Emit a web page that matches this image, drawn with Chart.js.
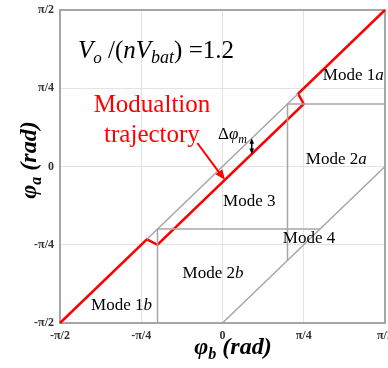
<!DOCTYPE html>
<html>
<head>
<meta charset="utf-8">
<script src="https://cdn.jsdelivr.net/npm/chart.js@4.4.1/dist/chart.umd.min.js"></script>
<style>
    html, body { margin: 0; padding: 0; background: #fff; }
    #wrap { width: 388px; height: 368px; }
</style>
</head>
<body>
<div id="wrap"><canvas id="modeMap"></canvas></div>
<script>
// axes are in units of pi/4 rad
const tickValues = [-2, -1, 0, 1, 2];
const tickLabels = ['-π/2', '-π/4', '0', 'π/4', 'π/2'];

// modulation trajectory (phi_b, phi_a)
const trajX = [-2, -0.93, -0.8, 1.0, 0.93, 2];
const trajY = [-2, -0.93, -1.0, 0.8, 0.93, 2];

// mode boundaries
const diagX = [-0.93, 0.93];
const diagY = [-0.93, 0.93];
const lowBoxX = [-0.8, -0.8, 1.2];
const lowBoxY = [-2, -0.8, -0.8];
const lowDiagX = [0, 2];
const lowDiagY = [-2, 0];
const highBoxX = [0.8, 0.8, 2];
const highBoxY = [-1.2, 0.8, 0.8];

const SERIF = '"Liberation Serif", "Times New Roman", serif';
const GREY = '#a6a6a6';
const RED = '#ff0000';

function pts(xs, ys) {
    return xs.map((x, i) => ({ x, y: ys[i] }));
}

function line(label, xs, ys, color, width) {
    return {
        label,
        data: pts(xs, ys),
        showLine: true,
        borderColor: color,
        borderWidth: width,
        pointRadius: 0,
        fill: false,
        tension: 0,
        clip: 4
    };
}

// draws a run of text pieces (font, optional baseline shift) from x
function runWidth(ctx, parts) {
    let w = 0;
    parts.forEach(p => { ctx.font = p.font; w += ctx.measureText(p.t).width; });
    return w;
}
function drawRun(ctx, parts, x, y, align) {
    let cx = align === 'center' ? x - runWidth(ctx, parts) / 2 : x;
    parts.forEach(p => {
        ctx.font = p.font;
        ctx.fillText(p.t, cx, y + (p.dy || 0));
        cx += ctx.measureText(p.t).width;
    });
}

function arrowHead(ctx, x0, y0, x1, y1, size) {
    const a = Math.atan2(y1 - y0, x1 - x0);
    ctx.beginPath();
    ctx.moveTo(x1, y1);
    ctx.lineTo(x1 - size * Math.cos(a - 0.4), y1 - size * Math.sin(a - 0.4));
    ctx.lineTo(x1 - size * Math.cos(a + 0.4), y1 - size * Math.sin(a + 0.4));
    ctx.closePath();
    ctx.fill();
}

const modeLabels = [
    { num: 'Mode 1', sub: 'a', x: 1.61, y: 1.105 },
    { num: 'Mode 2', sub: 'a', x: 1.40, y: 0.032 },
    { num: 'Mode 3', sub: '',  x: 0.33, y: -0.505 },
    { num: 'Mode 4', sub: '',  x: 1.065, y: -0.978 },
    { num: 'Mode 2', sub: 'b', x: -0.117, y: -1.425 },
    { num: 'Mode 1', sub: 'b', x: -1.243, y: -1.834 }
];

const framePlugin = {
    id: 'frame',
    beforeDatasetsDraw(chart) {
        const { ctx, chartArea: a } = chart;
        ctx.save();
        ctx.strokeStyle = GREY;
        ctx.lineWidth = 2;
        ctx.strokeRect(a.left, a.top, a.right - a.left, a.bottom - a.top);
        ctx.restore();
    }
};

const notesPlugin = {
    id: 'notes',
    afterDraw(chart) {
        const { ctx } = chart;
        const sx = chart.scales.x, sy = chart.scales.y;
        const px = v => sx.getPixelForValue(v);
        const py = v => sy.getPixelForValue(v);
        ctx.save();
        ctx.textBaseline = 'alphabetic';
        ctx.textAlign = 'left';

        // voltage ratio
        ctx.fillStyle = '#000';
        drawRun(ctx, [
            { t: 'V', font: 'italic 25px ' + SERIF },
            { t: 'o', font: 'italic 17px ' + SERIF, dy: 5 },
            { t: ' /(', font: '25px ' + SERIF },
            { t: 'n', font: 'italic 25px ' + SERIF },
            { t: 'V', font: 'italic 25px ' + SERIF },
            { t: 'bat', font: 'italic 18px ' + SERIF, dy: 5 },
            { t: ') =1.2', font: '25px ' + SERIF }
        ], px(-1.778), py(1.387), 'left');

        // mode names
        modeLabels.forEach(m => {
            const parts = [{ t: m.num, font: '17px ' + SERIF }];
            if (m.sub) parts.push({ t: m.sub, font: 'italic 17px ' + SERIF });
            drawRun(ctx, parts, px(m.x), py(m.y), 'center');
        });

        // delta phi_m marker
        drawRun(ctx, [
            { t: 'Δ', font: '17px ' + SERIF },
            { t: 'φ', font: 'italic 17px ' + SERIF },
            { t: 'm', font: 'italic 12px ' + SERIF, dy: 4 }
        ], px(-0.055), py(0.351), 'left');
        const ax = px(0.36), ay0 = py(0.36), ay1 = py(0.16);
        ctx.strokeStyle = '#000';
        ctx.lineWidth = 1.5;
        ctx.beginPath();
        ctx.moveTo(ax, ay0 + 3);
        ctx.lineTo(ax, ay1 - 3);
        ctx.stroke();
        arrowHead(ctx, ax, ay0 + 8, ax, ay0, 6);
        arrowHead(ctx, ax, ay1 - 8, ax, ay1, 6);

        // trajectory caption + pointer
        ctx.fillStyle = RED;
        ctx.textAlign = 'center';
        ctx.font = '25px ' + SERIF;
        ctx.fillText('Modualtion', px(-0.868), py(0.696));
        ctx.fillText('trajectory', px(-0.868), py(0.313));
        const x0 = px(-0.31), y0 = py(0.30), x1 = px(0.03), y1 = py(-0.17);
        ctx.strokeStyle = RED;
        ctx.lineWidth = 2;
        ctx.beginPath();
        ctx.moveTo(x0, y0);
        ctx.lineTo(x1 - 4, y1 - 5);
        ctx.stroke();
        arrowHead(ctx, x0, y0, x1, y1, 11);

        // axis titles
        ctx.fillStyle = '#000';
        ctx.textAlign = 'left';
        drawRun(ctx, [
            { t: 'φ', font: 'bold italic 24px ' + SERIF },
            { t: 'b', font: 'bold italic 16px ' + SERIF, dy: 5 },
            { t: ' (rad)', font: 'bold italic 24px ' + SERIF }
        ], 233, 354, 'center');
        ctx.translate(36, 160);
        ctx.rotate(-Math.PI / 2);
        drawRun(ctx, [
            { t: 'φ', font: 'bold italic 24px ' + SERIF },
            { t: 'a', font: 'bold italic 16px ' + SERIF, dy: 5 },
            { t: ' (rad)', font: 'bold italic 24px ' + SERIF }
        ], 0, 0, 'center');
        ctx.restore();
    }
};

function axis(isX) {
    return {
        type: 'linear',
        min: -2,
        max: 2,
        afterBuildTicks: s => { s.ticks = tickValues.map(v => ({ value: v })); },
        afterFit: s => {
            if (isX) { s.height = 45; s.paddingLeft = 0; s.paddingRight = 0; }
            else { s.width = 60; s.paddingTop = 0; s.paddingBottom = 0; }
        },
        grid: { color: '#e3e3e3', lineWidth: 1, drawTicks: false },
        border: { display: false },
        ticks: {
            autoSkip: false,
            maxRotation: 0,
            padding: 6,
            color: '#333',
            font: { family: SERIF, size: 12, weight: 'bold' },
            callback: v => tickLabels[tickValues.indexOf(v)]
        },
        title: { display: false }
    };
}

new Chart(document.getElementById('modeMap'), {
    type: 'scatter',
    data: {
        datasets: [
            line('diag', diagX, diagY, GREY, 1.5),
            line('lowBox', lowBoxX, lowBoxY, GREY, 1.5),
            line('lowDiag', lowDiagX, lowDiagY, GREY, 1.5),
            line('highBox', highBoxX, highBoxY, GREY, 1.5),
            line('trajectory', trajX, trajY, RED, 2.5)
        ]
    },
    options: {
        responsive: true,
        maintainAspectRatio: false,
        animation: false,
        devicePixelRatio: 1,
        layout: { padding: { left: 0, right: 3, top: 10, bottom: 0 } },
        plugins: {
            legend: { display: false },
            tooltip: { enabled: false }
        },
        scales: { x: axis(true), y: axis(false) }
    },
    plugins: [framePlugin, notesPlugin]
});
</script>
</body>
</html>
